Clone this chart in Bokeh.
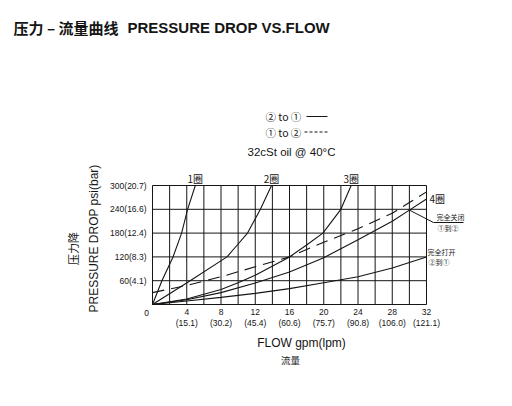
import math
from bokeh.plotting import figure
from bokeh.models import Range1d
from bokeh.core.properties import value
from bokeh.embed import file_html
from bokeh.resources import INLINE

# ---------------- data ----------------
flow_gpm_ticks = [4, 8, 12, 16, 20, 24, 28, 32]
flow_lpm_labels = ["(15.1)", "(30.2)", "(45.4)", "(60.6)", "(75.7)", "(90.8)", "(106.0)", "(121.1)"]
psi_ticks = [60, 120, 180, 240, 300]
psi_bar_labels = ["60(4.1)", "120(8.3)", "180(12.4)", "240(16.6)", "300(20.7)"]
grid_flow = [0, 2, 4, 6, 8, 10, 12, 14, 16, 18, 20, 22, 24, 26, 28, 30, 32]
grid_psi = [0, 60, 120, 180, 240, 300]
origin_label = "0"

# needle valve turns, direction (2) to (1)
turn1_flow = [0, 1.1, 2.4, 3.4, 4.1, 5.0]
turn1_psi = [0, 60, 120, 180, 240, 300]
turn2_flow = [0, 4.4, 8.7, 9.9, 11.1, 12.6, 13.9]
turn2_psi = [0, 60, 120, 150, 180, 240, 300]
turn3_flow = [0, 4, 8, 10, 12, 16, 18, 19.9, 22, 23.2]
turn3_psi = [0, 14, 38, 55, 74, 120, 150, 180, 240, 300]
turn4_flow = [0, 4, 8, 12, 16, 20, 24, 28, 30, 32]
turn4_psi = [0, 12, 30, 54, 82, 118, 163, 210, 238, 266]
# fully closed, direction (1) to (2)  (dashed)
closed_flow = [0, 4, 8, 12, 16, 20, 24, 28, 30, 32]
closed_psi = [30, 48, 70, 95, 120, 157, 191, 230, 257, 284]
# fully open, direction (2) to (1)
open_flow = [0, 4, 8, 12, 16, 20, 24, 28, 32]
open_psi = [0, 9, 18, 28, 40, 55, 70, 92, 120]

turn_labels = ["1圈", "2圈", "3圈", "4圈"]

CJK = value("Noto Sans CJK SC")
LAT = value("Liberation Sans")
INK = "#151515"

# ---------------- layout ----------------
W, H = 496, 390
BOX_L, BOX_R, BOX_T, BOX_B = 152.0, 426.0, 185.0, 304.0
FLOW_MAX, PSI_MAX = grid_flow[-1], grid_psi[-1]
sx = (BOX_R - BOX_L) / FLOW_MAX
sy = (BOX_B - BOX_T) / PSI_MAX

def dx(px):
    return (px - BOX_L) / sx

def dy(py):
    return (BOX_B - py) / sy

p = figure(width=W, height=H,
           x_range=Range1d(dx(0), dx(W)), y_range=Range1d(dy(H), dy(0)),
           x_axis_type=None, y_axis_type=None,
           output_backend="svg", toolbar_location=None, min_border=0)
p.outline_line_color = None
p.background_fill_color = "white"
p.border_fill_color = "white"
p.xgrid.visible = False
p.ygrid.visible = False

# grid box
p.segment(x0=grid_flow, y0=[0] * len(grid_flow), x1=grid_flow, y1=[PSI_MAX] * len(grid_flow),
          line_color=INK, line_width=1)
p.segment(x0=[0] * len(grid_psi), y0=grid_psi, x1=[FLOW_MAX] * len(grid_psi), y1=grid_psi,
          line_color=INK, line_width=1)

# curves
lw = 1.1
for fx, fy in ((turn1_flow, turn1_psi), (turn2_flow, turn2_psi), (turn3_flow, turn3_psi),
               (turn4_flow, turn4_psi), (open_flow, open_psi)):
    p.line(fx, fy, line_color=INK, line_width=lw)
p.line(closed_flow, closed_psi, line_color=INK, line_width=lw, line_dash="12 7")

# tick labels
tick_kw = dict(text_font=LAT, text_font_size="8.5px", text_color=INK, text_baseline="middle")
p.text(x=flow_gpm_ticks, y=[0] * len(flow_gpm_ticks), text=[str(t) for t in flow_gpm_ticks],
       y_offset=7, text_align="center", **tick_kw)
p.text(x=flow_gpm_ticks, y=[0] * len(flow_gpm_ticks), text=flow_lpm_labels,
       y_offset=18, text_align="center", **tick_kw)
p.text(x=[0] * len(psi_ticks), y=psi_ticks, text=psi_bar_labels,
       x_offset=-6, text_align="right", **tick_kw)
p.text(x=[0], y=[0], text=[origin_label], x_offset=-6, y_offset=8, text_align="center", **tick_kw)

# turn labels at the curve ends
lab_kw = dict(text_font=CJK, text_font_size="10px", text_color=INK, text_baseline="middle")
p.text(x=[turn1_flow[-1], turn2_flow[-1], turn3_flow[-1]],
       y=[turn1_psi[-1], turn2_psi[-1], turn3_psi[-1]],
       text=turn_labels[:3], y_offset=-7, text_align="center", **lab_kw)
p.text(x=[turn4_flow[-1]], y=[turn4_psi[-1]], text=[turn_labels[3]], x_offset=3,
       text_align="left", **lab_kw)

# callout for fully closed
p.line([turn4_flow[-2], dx(433), dx(463)], [turn4_psi[-2], dy(222), dy(222)],
       line_color=INK, line_width=1)

def txt(px, py, s, font, size, align="left", angle=0.0, bold=False):
    p.text(x=[dx(px)], y=[dy(py)], text=[s], text_align=align, text_baseline="middle",
           angle=angle, text_font=font, text_font_size=size,
           text_font_style="bold" if bold else "normal", text_color=INK)

txt(436, 216, "完全关闭", CJK, "7px")
txt(437, 227, "①到②", CJK, "7px")
txt(427, 251, "完全打开", CJK, "7px")
txt(428, 261, "②到①", CJK, "7px")

# title
txt(13, 27, "压力 – 流量曲线", CJK, "15px", bold=True)
txt(127, 27, "PRESSURE DROP VS.FLOW", LAT, "15px", bold=True)

# legend
txt(265, 116, "② to ①", CJK, "10.5px")
txt(265, 131.5, "① to ②", CJK, "10.5px")
p.line([dx(306), dx(327)], [dy(116), dy(116)], line_color=INK, line_width=1)
p.line([dx(304), dx(327)], [dy(131.5), dy(131.5)], line_color=INK, line_width=1, line_dash="3 2")
txt(291, 151, "32cSt oil @ 40°C", LAT, "11.5px", align="center")

# axis titles
txt(93, 238, "PRESSURE DROP psi(bar)", LAT, "12px", align="center", angle=math.pi / 2)
txt(72, 248, "压力降", CJK, "11px", align="center", angle=math.pi / 2)
txt(301, 342, "FLOW gpm(lpm)", LAT, "12px", align="center")
txt(290, 359, "流量", CJK, "9.5px", align="center")

open("out.html", "w").write(file_html(p, INLINE))
